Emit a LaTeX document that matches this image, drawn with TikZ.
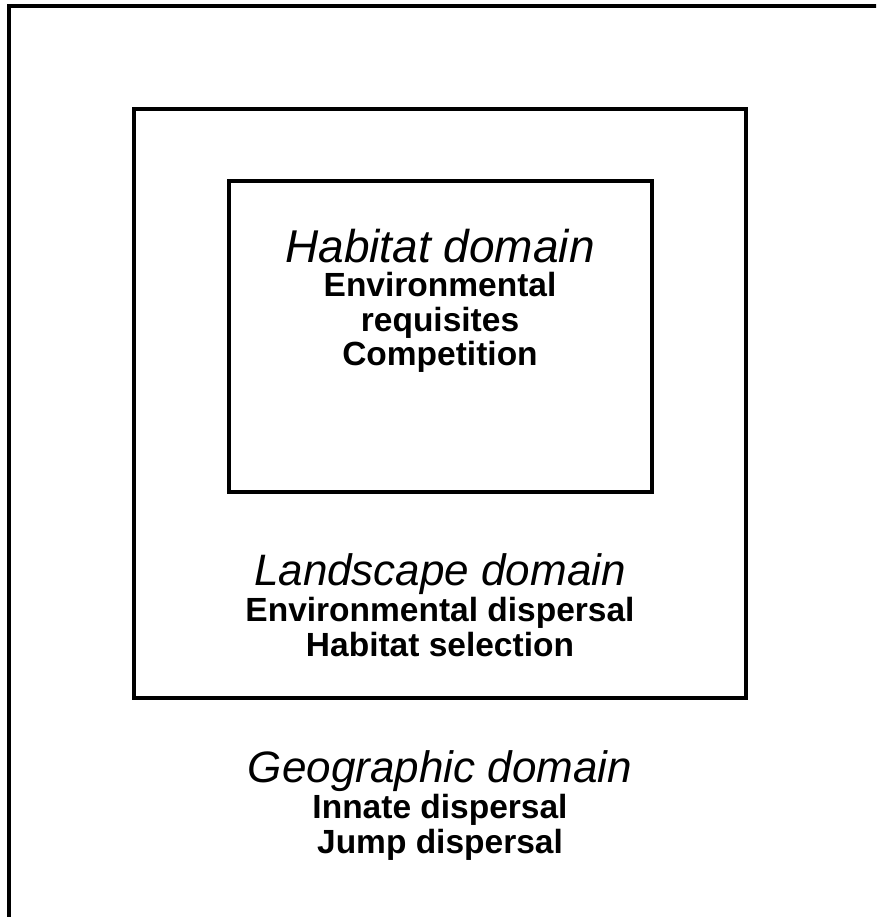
\documentclass[tikz,border=0pt]{standalone}
\usepackage{fontspec}
\setmainfont{Liberation Sans}
\tikzset{
  frame/.style={draw=black, line width=3.2pt},
  title/.style={font=\fontsize{44}{48}\selectfont\itshape, inner sep=0pt, anchor=base},
  item/.style={font=\fontsize{33.5}{36}\selectfont\bfseries, inner sep=0pt, anchor=base},
}
\begin{document}
\begin{tikzpicture}[x=1pt, y=-1pt]
\useasboundingbox (0,0) rectangle (876,917);
\fill[white] (0,0) rectangle (876,917);
\begin{scope}
\clip (0,0) rectangle (876,917);
\draw[frame] (9,6) rectangle (900,940);
\end{scope}
\draw[frame] (134,109) rectangle (746,698);
\draw[frame] (229,181) rectangle (652,492);

\node[title, font=\fontsize{46}{50}\selectfont\itshape] (hd) at (440,262) {Habitat domain};
\node[item] (h1) at (440,296) {Environmental};
\node[item] (h2) at (440,331) {requisites};
\node[item] (h3) at (440,365) {Competition};

\node[title] (ld) at (440,585) {Landscape domain};
\node[item] (l1) at (440,621) {Environmental dispersal};
\node[item] (l2) at (440,656) {Habitat selection};

\node[title] (gd) at (440,782) {Geographic domain};
\node[item] (g1) at (440,818) {Innate dispersal};
\node[item] (g2) at (440,853) {Jump dispersal};
\end{tikzpicture}
\end{document}
